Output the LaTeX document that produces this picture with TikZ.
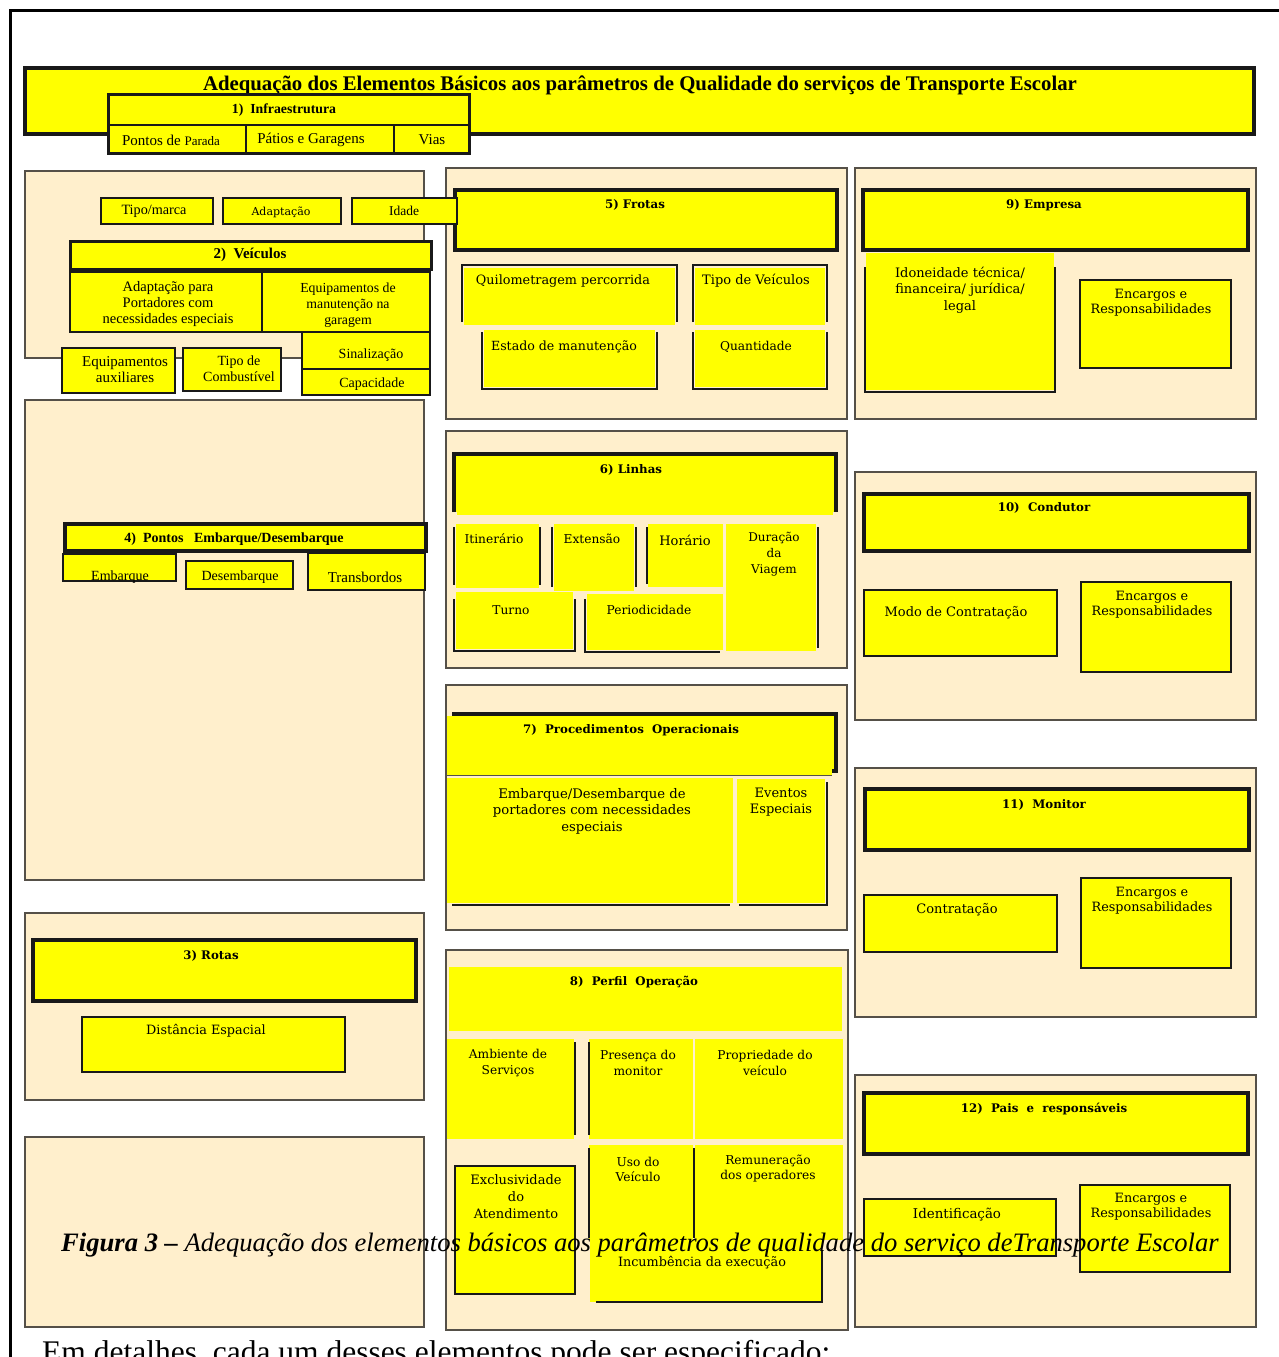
\documentclass[tikz,border=0pt]{standalone}
\usepackage{fontspec}
\setmainfont{Liberation Serif}
\newfontfamily\geo{DejaVu Serif}

\definecolor{amarelo}{HTML}{FFFF00}
\definecolor{bege}{HTML}{FFEFCC}
\definecolor{bordo}{HTML}{555048}

\tikzset{
  panel/.style={fill=bege, draw=bordo, line width=1.3pt},
  headbox/.style={fill=amarelo, draw=black!90, line width=3.5pt},
  cellbox/.style={fill=amarelo, draw=black!90, line width=2.5pt},
  flatbox/.style={fill=amarelo, draw=none},
  edge/.style={draw=black!90, line width=2.5pt},
  txt/.style={font=\geo\fontsize{12.2}{14.5}\selectfont, align=center, inner sep=0pt},
  ttxt/.style={font=\fontsize{14.5}{15.5}\selectfont, align=center, inner sep=0pt},
  hdtxt/.style={font=\geo\bfseries\fontsize{11.8}{13}\selectfont, inner sep=0pt},
  thdtxt/.style={font=\bfseries\fontsize{14.5}{15}\selectfont, inner sep=0pt}
}

\begin{document}
\begin{tikzpicture}[x=1pt, y=-1pt]
\useasboundingbox (0,0) rectangle (1278,1357);

% moldura
\draw [line width=3pt] (10,1360) -- (10,10) -- (1280,10);

% titulo geral
\draw [headbox] (25,68) rectangle (1254,134);
\node [font=\bfseries\fontsize{20.8}{22}\selectfont, inner sep=0pt] (titulo) at (640,85)
  {Adequação dos Elementos Básicos aos parâmetros de Qualidade do serviços de Transporte Escolar};

% 1) infraestrutura
\draw [headbox, line width=3pt] (108,94) rectangle (469,153);
\draw [edge] (108,125) -- (469,125);
\draw [edge] (246,125) -- (246,153);
\draw [edge] (394,125) -- (394,153);
\node [thdtxt, font=\bfseries\fontsize{13.8}{15}\selectfont] (infra) at (284,110) {1)\ \ Infraestrutura};
\node [ttxt, font=\fontsize{15}{16}\selectfont] (parada) at (171,140) {Pontos de {\fontsize{13}{14}\selectfont Parada}};
\node [ttxt, font=\fontsize{15}{16}\selectfont] (patios) at (311,140) {Pátios e Garagens};
\node [ttxt, font=\fontsize{15}{16}\selectfont] (vias) at (432,140) {Vias};

% paineis
\draw [panel] (25,171) rectangle (424,358);
\draw [panel] (25,400) rectangle (424,880);
\draw [panel] (25,913) rectangle (424,1100);
\draw [panel] (25,1137) rectangle (424,1327);
\draw [panel] (446,168) rectangle (847,419);
\draw [panel] (446,431) rectangle (847,668);
\draw [panel] (446,685) rectangle (847,930);
\draw [panel] (446,950) rectangle (848,1330);
\draw [panel] (855,168) rectangle (1256,419);
\draw [panel] (855,472) rectangle (1256,720);
\draw [panel] (855,768) rectangle (1256,1017);
\draw [panel] (855,1075) rectangle (1256,1327);

% 5) frotas
\draw [headbox] (455,190) rectangle (837,250);
\node [hdtxt] (frotas) at (635,205) {5)\ Frotas};
\draw [edge] (462,322) -- (462,265) -- (677,265) -- (677,322);
\draw [flatbox] (464,268) rectangle (675,325);
\node [txt, font=\geo\fontsize{12.8}{15}\selectfont] (quilometragem) at (563,281) {Quilometragem percorrida};
\draw [edge] (693,322) -- (693,265) -- (827,265) -- (827,322);
\draw [flatbox] (695,268) rectangle (825,325);
\node [txt, font=\geo\fontsize{13}{15}\selectfont] (tipoveic) at (756,281) {Tipo de Veículos};
\draw [edge] (482,332) -- (482,389) -- (657,389) -- (657,332);
\draw [flatbox] (484,330) rectangle (655,387);
\node [txt, font=\geo\fontsize{12.6}{15}\selectfont] (estado) at (564,347) {Estado de manutenção};
\draw [edge] (693,332) -- (693,389) -- (827,389) -- (827,332);
\draw [flatbox] (695,330) rectangle (825,387);
\node [txt] (quantidade) at (756,347) {Quantidade};

% 2) veiculos
\draw [cellbox] (101,198) rectangle (213,224);
\node [ttxt, font=\fontsize{14.2}{15}\selectfont] (tipomarca) at (154,211) {Tipo/marca};
\draw [cellbox] (223,198) rectangle (341,224);
\node [txt, font=\geo\fontsize{11}{13}\selectfont] (adaptacao) at (281,212) {Adaptação};
\draw [cellbox] (352,198) rectangle (457,224);
\node [ttxt, font=\fontsize{13.5}{15}\selectfont] (idade) at (404,211) {Idade};
\draw [headbox, line width=3pt] (70,241) rectangle (431,269);
\node [thdtxt, font=\bfseries\fontsize{15}{16}\selectfont] (veiculos) at (250,255) {2)\ \ Veículos};
\draw [cellbox] (70,272) rectangle (262,332);
\node [ttxt, font=\fontsize{14.5}{16}\selectfont] (portadores) at (168,304) {Adaptação para\\Portadores com\\necessidades especiais};
\draw [cellbox] (262,272) rectangle (430,332);
\node [ttxt, font=\fontsize{13.8}{16}\selectfont] (manutencao) at (348,305) {Equipamentos de\\manutenção na\\garagem};
\draw [cellbox] (302,332) rectangle (430,369);
\node [ttxt, font=\fontsize{14}{15}\selectfont] (sinalizacao) at (371,355) {Sinalização};
\draw [cellbox] (302,369) rectangle (430,395);
\node [ttxt, font=\fontsize{14}{15}\selectfont] (capacidade) at (372,384) {Capacidade};
\draw [cellbox] (62,348) rectangle (175,393);
\node [ttxt, font=\fontsize{15}{16}\selectfont] (auxiliares) at (125,370) {Equipamentos\\auxiliares};
\draw [cellbox] (183,348) rectangle (281,391);
\node [ttxt, font=\fontsize{14}{16}\selectfont] (combustivel) at (239,369) {Tipo de\\Combustível};

% 4) pontos embarque/desembarque
\draw [headbox] (65,524) rectangle (426,551);
\node [thdtxt, font=\bfseries\fontsize{14}{15}\selectfont] (pontos) at (234,539) {4)\ \ Pontos\ \ \ Embarque/Desembarque};
\draw [cellbox] (63,554) rectangle (176,581);
\node [ttxt, font=\fontsize{14}{15}\selectfont] (embarque) at (120,577) {Embarque};
\draw [cellbox] (186,561) rectangle (293,589);
\node [ttxt, font=\fontsize{14}{15}\selectfont] (desembarque) at (240,577) {Desembarque};
\draw [cellbox] (308,553) rectangle (425,590);
\node [ttxt, font=\fontsize{15}{16}\selectfont] (transbordos) at (365,577) {Transbordos};

% 3) rotas
\draw [headbox] (33,940) rectangle (416,1001);
\node [hdtxt] (rotas) at (211,956) {3) Rotas};
\draw [cellbox] (82,1017) rectangle (345,1072);
\node [txt, font=\geo\fontsize{12.8}{15}\selectfont] (distancia) at (206,1031) {Distância Espacial};

% 9) empresa
\draw [headbox] (863,190) rectangle (1248,250);
\node [hdtxt] (empresa) at (1044,205) {9)\ Empresa};
\draw [edge] (865,267) -- (865,392) -- (1055,392) -- (1055,267);
\draw [flatbox] (866,253) rectangle (1054,390);
\node [txt, font=\geo\fontsize{13}{16.5}\selectfont] (idoneidade) at (960,290) {Idoneidade técnica/\\financeira/ jurídica/\\legal};
\draw [cellbox] (1080,280) rectangle (1231,368);
\node [txt, font=\geo\fontsize{12.8}{15}\selectfont] (encargosa) at (1151,303) {Encargos e\\Responsabilidades};

% 6) linhas
\draw [headbox] (454,512) -- (454,454) -- (836,454) -- (836,512);
\draw [flatbox] (457,457) rectangle (833,515);
\node [hdtxt] (linhas) at (631,470) {6) Linhas};
\draw [edge] (454,527) -- (454,585);
\draw [edge] (540,527) -- (540,585);
\draw [flatbox] (456,524) rectangle (539,588);
\node [txt] (itinerario) at (494,539) {Itinerário};
\draw [edge] (552,527) -- (552,587);
\draw [edge] (636,527) -- (636,587);
\draw [flatbox] (554,524) rectangle (634,591);
\node [txt] (extensao) at (592,539) {Extensão};
\draw [edge] (647,527) -- (647,584);
\draw [flatbox] (648,524) rectangle (723,587);
\node [txt, font=\geo\fontsize{13}{15}\selectfont] (horario) at (685,540) {Horário};
\draw [edge] (818,527) -- (818,648);
\draw [flatbox] (726,524) rectangle (816,651);
\node [txt, font=\geo\fontsize{12}{16}\selectfont] (duracao) at (774,554) {Duração\\da\\Viagem};
\draw [edge] (454,599) -- (454,651) -- (575,651) -- (575,599);
\draw [flatbox] (456,592) rectangle (573,649);
\node [txt] (turno) at (511,610) {Turno};
\draw [edge] (585,599) -- (585,652) -- (720,652);
\draw [flatbox] (587,594) rectangle (723,650);
\node [txt] (periodicidade) at (649,610) {Periodicidade};

% 7) procedimentos operacionais
\draw [headbox] (454,722) -- (454,714) -- (836,714) -- (836,771) -- (830,771);
\draw [flatbox] (447,716) rectangle (832,775);
\draw [draw=bordo, line width=0.8pt] (447,775) -- (832,775);
\node [hdtxt] (procedimentos) at (631,730) {7)\ \ Procedimentos\ \ Operacionais};
\draw [edge] (452,905) -- (730,905);
\draw [flatbox] (447,778) rectangle (733,903);
\node [txt, font=\geo\fontsize{13.2}{16.5}\selectfont] (portadoresb) at (592,811) {Embarque/Desembarque de\\portadores com necessidades\\especiais};
\draw [edge] (739,905) -- (827,905) -- (827,782);
\draw [flatbox] (737,779) rectangle (825,903);
\node [txt, font=\geo\fontsize{13}{16}\selectfont] (eventos) at (781,802) {Eventos\\Especiais};

% 8) perfil operacao
\draw [flatbox] (449,967) rectangle (842,1031);
\node [hdtxt] (perfil) at (634,982) {8)\ \ Perfil\ \ Operação};
\draw [flatbox] (447,1039) rectangle (574,1139);
\draw [edge] (575,1042) -- (575,1135);
\node [txt, font=\geo\fontsize{12.2}{16}\selectfont] (ambiente) at (508,1063) {Ambiente de\\Serviços};
\draw [flatbox] (589,1039) rectangle (693,1139);
\draw [edge] (589,1042) -- (589,1135);
\node [txt, font=\geo\fontsize{12.2}{16}\selectfont] (presenca) at (638,1063) {Presença do\\monitor};
\draw [flatbox] (695,1039) rectangle (843,1139);
\node [txt, font=\geo\fontsize{12.2}{16}\selectfont] (propriedade) at (765,1063) {Propriedade do\\veículo};
\draw [flatbox] (589,1145) rectangle (693,1240);
\draw [edge] (589,1148) -- (589,1238);
\draw [edge] (694,1148) -- (694,1238);
\node [txt, font=\geo\fontsize{12.2}{15}\selectfont] (uso) at (638,1169) {Uso do\\Veículo};
\draw [flatbox] (695,1145) rectangle (843,1240);
\node [txt, font=\geo\fontsize{12.2}{15}\selectfont] (remuneracao) at (768,1169) {Remuneração\\dos operadores};
\draw [cellbox] (455,1166) rectangle (575,1294);
\node [txt, font=\geo\fontsize{13}{17}\selectfont] (exclusividade) at (516,1197) {Exclusividade\\do\\Atendimento};
\draw [flatbox] (590,1240) rectangle (822,1302);
\draw [edge] (822,1250) -- (822,1302) -- (596,1302);
\node [txt, font=\geo\fontsize{12.8}{15}\selectfont] (incumbencia) at (702,1263) {Incumbência da execução};

% 10) condutor
\draw [headbox] (864,494) rectangle (1249,551);
\node [hdtxt] (condutor) at (1044,508) {10)\ \ Condutor};
\draw [cellbox] (864,590) rectangle (1057,656);
\node [txt, font=\geo\fontsize{13}{15}\selectfont] (modo) at (956,613) {Modo de Contratação};
\draw [cellbox] (1081,582) rectangle (1231,672);
\node [txt, font=\geo\fontsize{12.8}{15}\selectfont] (encargosb) at (1152,605) {Encargos e\\Responsabilidades};

% 11) monitor
\draw [headbox] (865,789) rectangle (1249,850);
\node [hdtxt] (monitor) at (1044,805) {11)\ \ Monitor};
\draw [cellbox] (864,895) rectangle (1057,952);
\node [txt, font=\geo\fontsize{13}{15}\selectfont] (contratacao) at (957,910) {Contratação};
\draw [cellbox] (1081,878) rectangle (1231,968);
\node [txt, font=\geo\fontsize{12.8}{15}\selectfont] (encargosc) at (1152,901) {Encargos e\\Responsabilidades};

% 12) pais e responsaveis
\draw [headbox] (864,1093) rectangle (1248,1154);
\node [hdtxt] (pais) at (1044,1109) {12)\ \ Pais\ \ e\ \ responsáveis};
\draw [cellbox] (864,1199) rectangle (1056,1256);
\node [txt, font=\geo\fontsize{13.4}{15}\selectfont] (identificacao) at (957,1215) {Identificação};
\draw [cellbox] (1080,1185) rectangle (1230,1272);
\node [txt, font=\geo\fontsize{12.8}{15}\selectfont] (encargosd) at (1151,1207) {Encargos e\\Responsabilidades};

% legenda
\node [font=\itshape\fontsize{26.6}{30}\selectfont, inner sep=0pt] (legenda) at (640,1245)
  {\textbf{Figura 3 –} Adequação dos elementos básicos aos parâmetros de qualidade do serviço deTransporte Escolar};
\node [font=\fontsize{31.5}{33}\selectfont, anchor=base west, inner sep=0pt] (detalhes) at (42,1362)
  {Em detalhes, cada um desses elementos pode ser especificado:};
\end{tikzpicture}
\end{document}
